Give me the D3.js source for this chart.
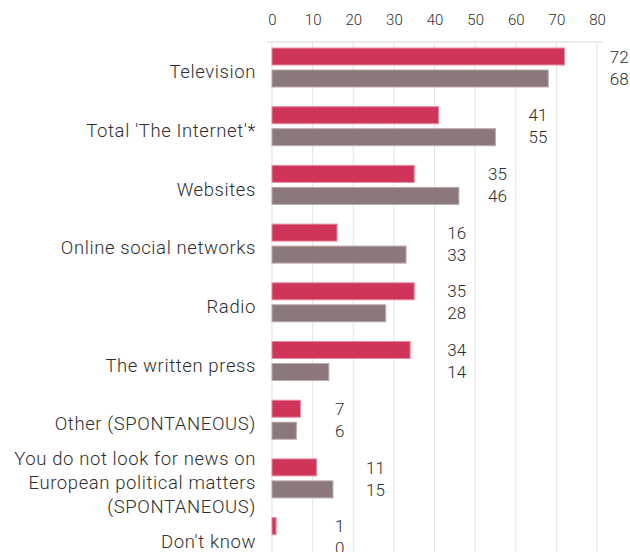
<!DOCTYPE html>
<html>
<head>
<meta charset="utf-8">
<script src="https://cdn.jsdelivr.net/npm/d3@7"></script>
<style>
  html, body { margin: 0; padding: 0; background: #fff; }
  text { font-family: Roboto, "Noto Sans", sans-serif; fill: #2e2e2e; font-weight: 300; }
</style>
</head>
<body>
<svg id="chart" width="630" height="552"></svg>
<script>
const categories = [
  "Television",
  "Total 'The Internet'*",
  "Websites",
  "Online social networks",
  "Radio",
  "The written press",
  "Other (SPONTANEOUS)",
  "You do not look for news on\nEuropean political matters\n(SPONTANEOUS)",
  "Don't know"
];
const seriesNames = ["EU28", "Country"];
const seriesA = [72, 41, 35, 16, 35, 34, 7, 11, 1];
const seriesB = [68, 55, 46, 33, 28, 14, 6, 15, 0];
const xTicks = [0, 10, 20, 30, 40, 50, 60, 70, 80];
const colors = ["#cf3559", "#8a787a"];

const svg = d3.select("#chart");
const x = d3.scaleLinear().domain([0, 80]).range([272, 597]);
const pIn = 0.3356;
const y = d3.scaleBand().domain(categories).range([38.15, 38.15 + 9 * 58.7])
  .paddingInner(pIn).paddingOuter(pIn / 2);
const ySub = d3.scaleBand().domain(seriesNames).range([0, y.bandwidth()]).paddingInner(0.227);

// gridlines
svg.append("g").selectAll("line").data(xTicks).join("line")
  .attr("x1", d => x(d)).attr("x2", d => x(d))
  .attr("y1", 42).attr("y2", 552)
  .attr("stroke", "#e3e3e3").attr("stroke-width", 1);
svg.append("line").attr("x1", x(0) - 5).attr("x2", x(80) + 5)
  .attr("y1", 42).attr("y2", 42).attr("stroke", "#ebebeb").attr("stroke-width", 2);

// top axis
const axis = d3.axisTop(x).tickValues(xTicks).tickSize(0).tickPadding(0);
const ag = svg.append("g").attr("transform", "translate(0,25)").call(axis);
ag.select(".domain").remove();
ag.selectAll("text").style("font-family", "Roboto, sans-serif").style("font-size", "15px")
  .style("font-weight", "300").attr("fill", "#2e2e2e");

const rows = categories.map((c, i) => ({ cat: c, vals: [seriesA[i], seriesB[i]] }));
const g = svg.append("g").selectAll("g").data(rows).join("g")
  .attr("transform", d => `translate(0,${y(d.cat)})`);

g.selectAll("rect").data(d => d.vals.map((v, j) => ({ v, s: seriesNames[j], j }))).join("rect")
  .attr("x", x(0))
  .attr("y", d => ySub(d.s))
  .attr("width", d => x(d.v) - x(0))
  .attr("height", ySub.bandwidth())
  .attr("fill", d => colors[d.j])
  .attr("stroke", d => d.j === 0 ? "#e88aa0" : "#b9aaab")
  .attr("stroke-width", 1);

// value labels
g.each(function(d) {
  const m = d3.max(d.vals);
  const pos = Math.max(15.8, Math.ceil((m + 10) / 10) * 10 - 2.2);
  d3.select(this).selectAll("text.val").data(d.vals.map((v, j) => ({ v, s: seriesNames[j] }))).join("text")
    .attr("class", "val")
    .attr("x", x(pos))
    .attr("y", s => ySub(s.s) + ySub.bandwidth() / 2)
    .attr("dy", "0.36em")
    .attr("text-anchor", "end")
    .style("font-size", "17px")
    .text(s => s.v);
});

// category labels
g.each(function(d) {
  const lines = d.cat.split("\n");
  const lh = 24;
  const cy = y.bandwidth() / 2 + 4;
  const t = d3.select(this).append("text")
    .attr("text-anchor", "end")
    .style("font-size", "18.5px")
    .style("letter-spacing", "0.6px");
  lines.forEach((ln, k) => {
    t.append("tspan").attr("x", 256)
      .attr("y", cy + (k - (lines.length - 1) / 2) * lh)
      .attr("dy", "0.36em")
      .text(ln);
  });
});
</script>
</body>
</html>
